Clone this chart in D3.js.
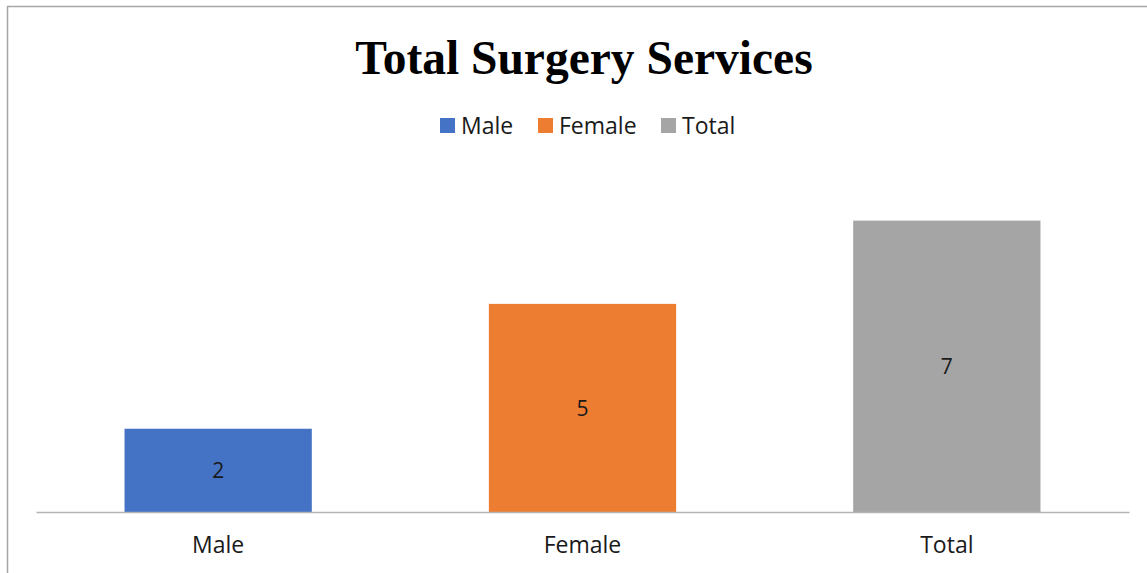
<!DOCTYPE html>
<html>
<head>
<meta charset="utf-8">
<script src="https://cdn.jsdelivr.net/npm/d3@7"></script>
<style>
  body { margin: 0; background: #fff; }
  svg { display: block; }
</style>
</head>
<body>
<div id="chart"></div>
<script>
// data
var categories = ["Male", "Female", "Total"];
var values = [2, 5, 7];
var colors = ["#4472C4", "#ED7D31", "#A5A5A5"];
var title = "Total Surgery Services";

var width = 1147, height = 573;
var margin = {left: 36, right: 18, top: 179, bottom: 61};
var font = "'Open Sans', 'Noto Sans', sans-serif";

var svg = d3.select("#chart").append("svg")
  .attr("width", width)
  .attr("height", height);

// chart frame (only left and top edges are visible in the picture)
svg.append("rect")
  .attr("x", 7.5).attr("y", 6.5)
  .attr("width", width).attr("height", height)
  .attr("fill", "none")
  .attr("stroke", "#a6a6a6")
  .attr("stroke-width", 1.5);

var x = d3.scaleBand()
  .domain(categories)
  .range([margin.left, width - margin.right])
  .paddingInner(0.486)
  .paddingOuter(0.243);

var y = d3.scaleLinear()
  .domain([0, 8])
  .range([height - margin.bottom, margin.top]);

// title
svg.append("text")
  .attr("x", 584).attr("y", 74)
  .attr("text-anchor", "middle")
  .style("font-family", "'Liberation Serif', 'Times New Roman', serif")
  .style("font-weight", "bold")
  .style("font-size", "47.5px")
  .text(title);

// legend
var legendX = [440, 538, 661];
var legend = svg.selectAll(".legend")
  .data(categories)
  .enter().append("g")
  .attr("class", "legend")
  .attr("transform", (d, i) => `translate(${legendX[i]},118)`);
legend.append("rect")
  .attr("width", 15).attr("height", 15)
  .attr("fill", (d, i) => colors[i]);
legend.append("text")
  .attr("x", 21).attr("y", 16)
  .style("font-family", font)
  .style("font-size", "23px")
  .attr("fill", "#1a1a1a")
  .text(d => d);

// bars
svg.selectAll(".bar")
  .data(values)
  .enter().append("rect")
  .attr("class", "bar")
  .attr("x", (d, i) => x(categories[i]))
  .attr("width", x.bandwidth())
  .attr("y", d => y(d))
  .attr("height", d => y(0) - y(d))
  .attr("fill", (d, i) => colors[i]);

// value labels
svg.selectAll(".val")
  .data(values)
  .enter().append("text")
  .attr("class", "val")
  .attr("x", (d, i) => x(categories[i]) + x.bandwidth() / 2)
  .attr("y", d => (y(d) + y(0)) / 2 + 8)
  .attr("text-anchor", "middle")
  .style("font-family", font)
  .style("font-size", "21px")
  .attr("fill", "#1a1a1a")
  .text(d => d);

// x axis
var xAxis = svg.append("g")
  .attr("transform", `translate(0,${y(0)})`)
  .call(d3.axisBottom(x).tickSize(0).tickPadding(25));
xAxis.select(".domain").attr("stroke", "#b3b3b3").attr("stroke-width", 1.5);
xAxis.selectAll("text")
  .style("font-family", font)
  .style("font-size", "23px")
  .attr("fill", "#1a1a1a");
</script>
</body>
</html>
